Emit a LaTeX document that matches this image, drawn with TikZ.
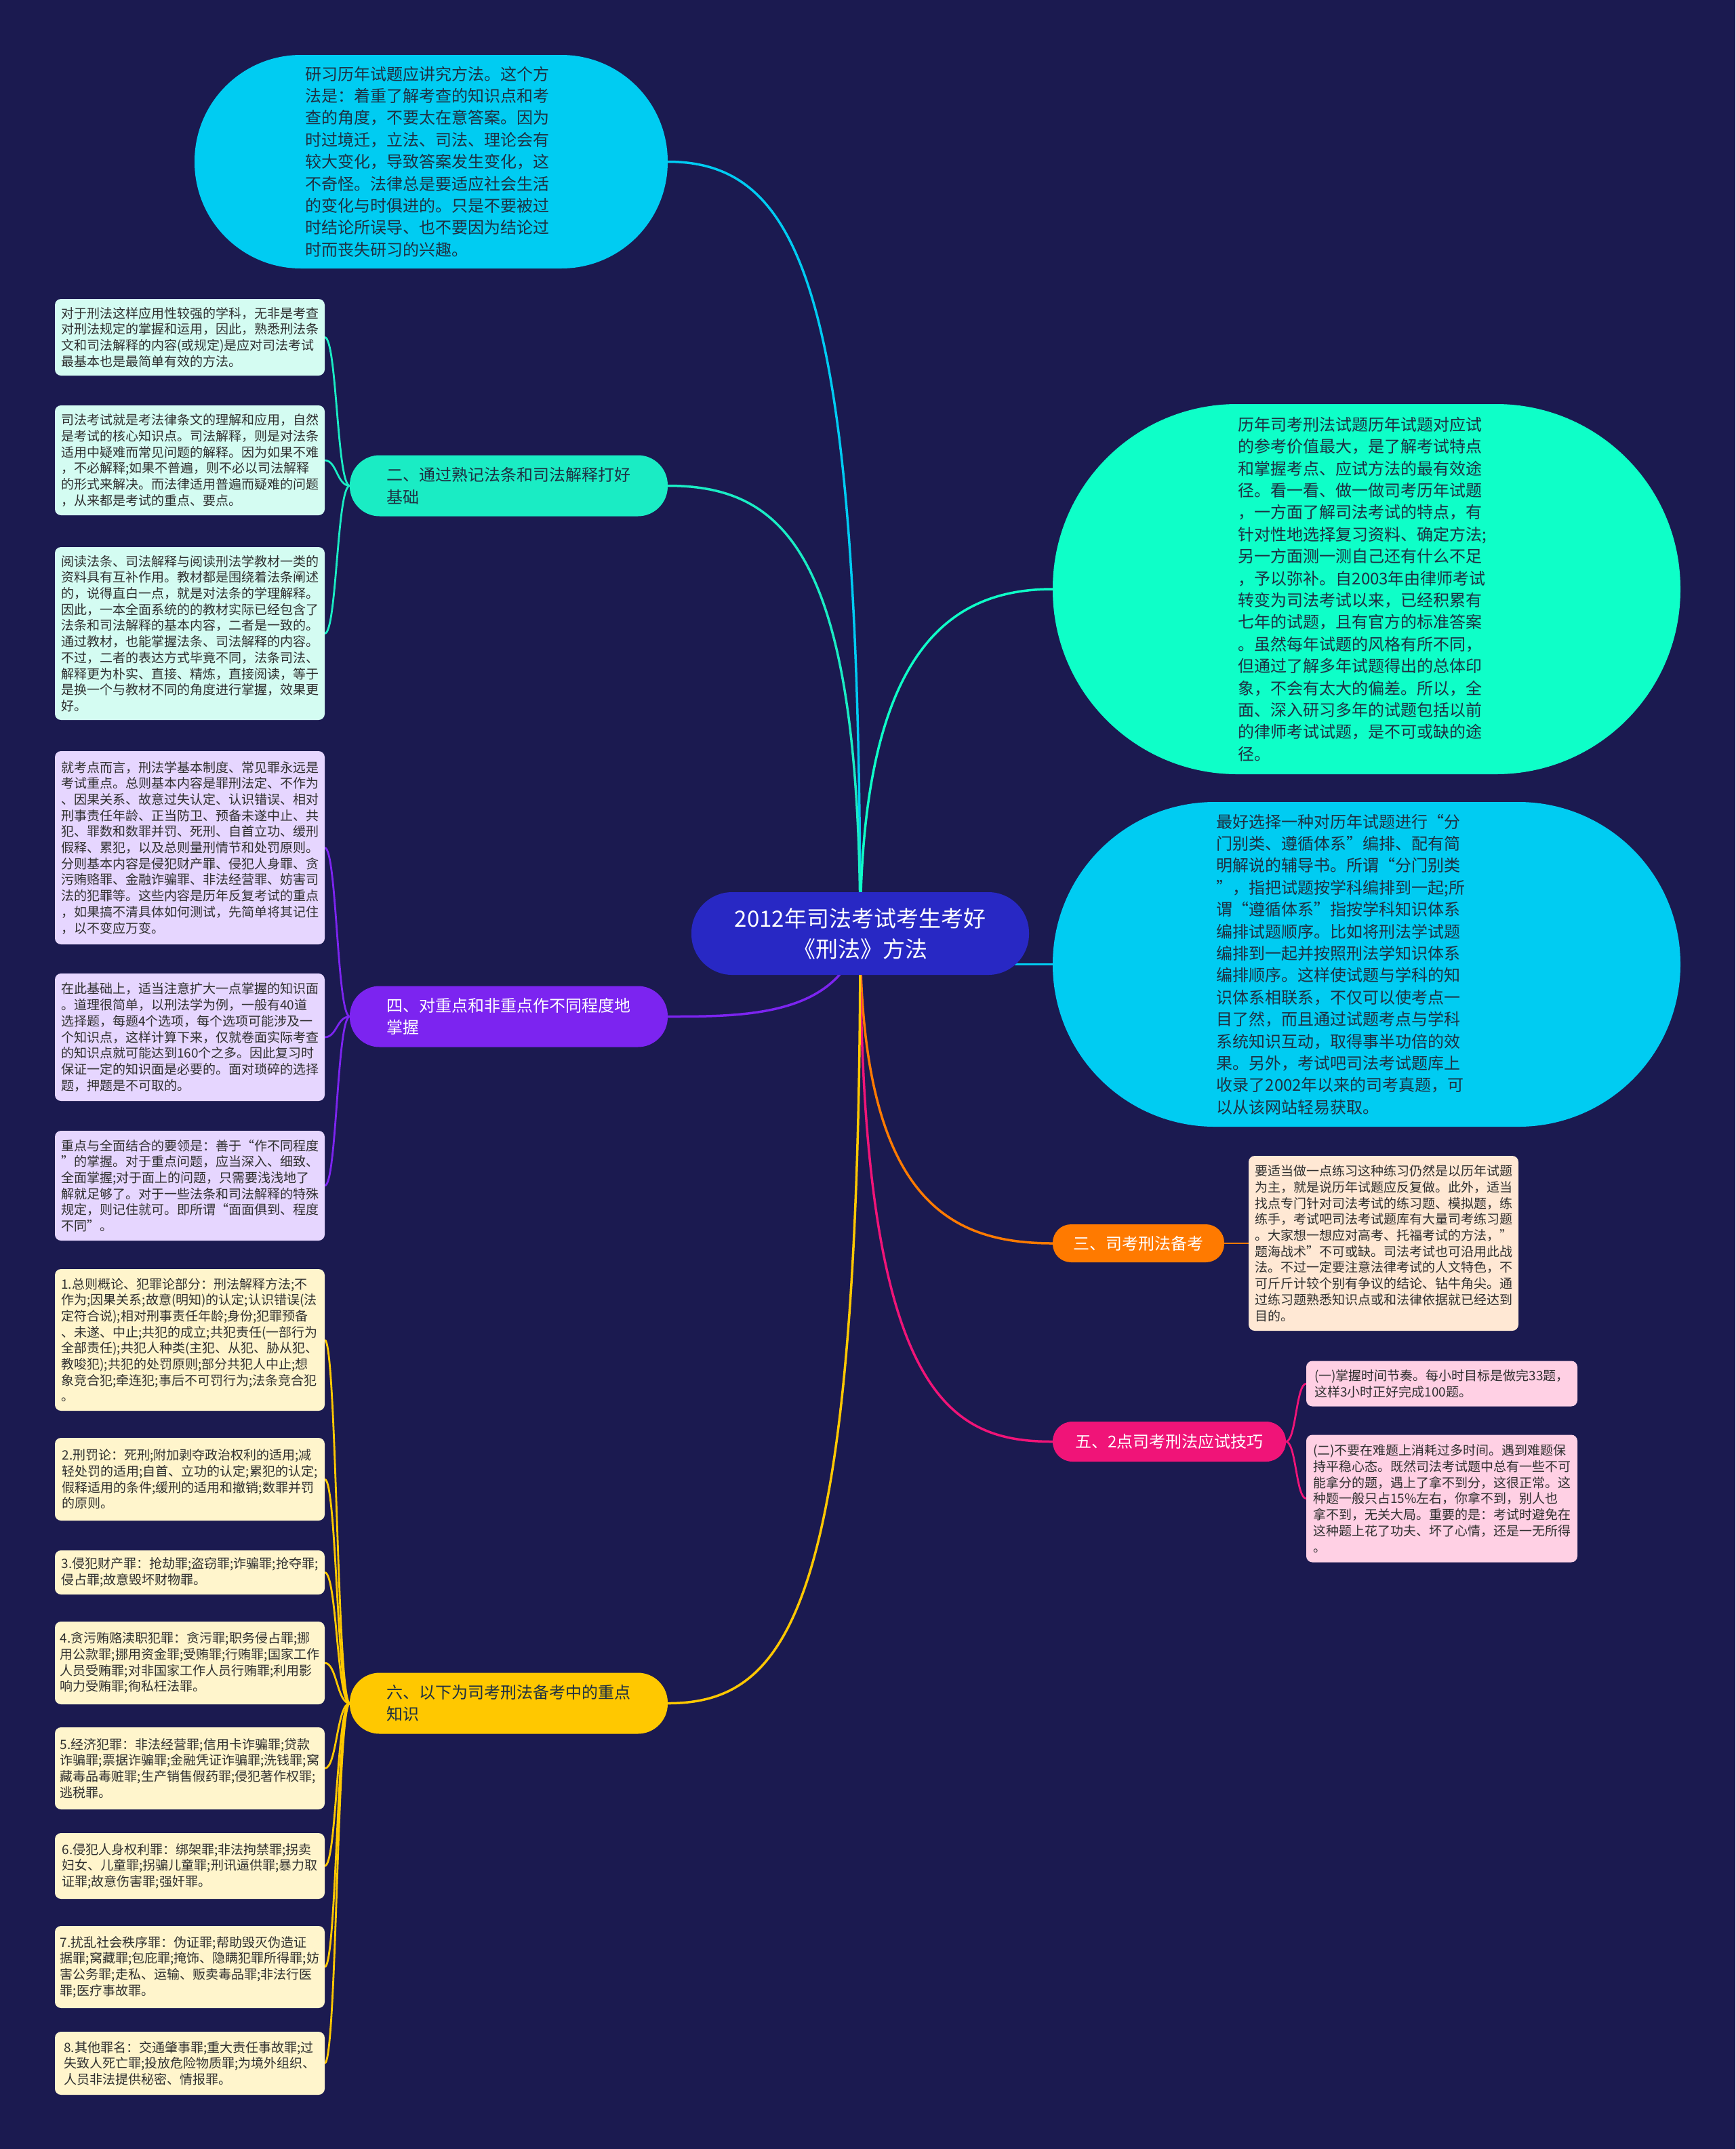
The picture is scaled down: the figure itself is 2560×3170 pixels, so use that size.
\documentclass[tikz,border=0pt]{standalone}
\usepackage{fontspec}
\setmainfont{Noto Sans CJK SC}
\definecolor{bgc}{RGB}{27,26,80}
\definecolor{ctrc}{RGB}{40,40,196}
\definecolor{cyanc}{RGB}{0,204,242}
\definecolor{mintc}{RGB}{14,255,200}
\definecolor{mintl}{RGB}{26,236,196}
\definecolor{mintbox}{RGB}{212,252,242}
\definecolor{purc}{RGB}{124,36,240}
\definecolor{purbox}{RGB}{230,214,255}
\definecolor{orac}{RGB}{255,122,0}
\definecolor{orabox}{RGB}{255,232,212}
\definecolor{magc}{RGB}{240,20,120}
\definecolor{magbox}{RGB}{255,208,228}
\definecolor{yelc}{RGB}{255,200,0}
\definecolor{yelbox}{RGB}{255,245,204}
\definecolor{bubtxt}{RGB}{30,48,66}
\definecolor{boxtxt}{RGB}{48,48,48}
\pgfdeclarelayer{bgl}
\pgfdeclarelayer{edges}
\pgfsetlayers{bgl,edges,main}
\begin{document}
\begin{tikzpicture}[x=1pt,y=-1pt,
  every node/.style={inner sep=0pt, outer sep=0pt},
  btext/.style={align=left, font=\fontsize{24}{32.4}\selectfont, text=bubtxt},
  branchnode/.style={rectangle, minimum width=469pt, minimum height=90pt, rounded corners=44pt, align=left, font=\fontsize{24}{32.4}\selectfont},
  sbox/.style={rectangle, minimum width=398pt, rounded corners=9pt, align=left, font=\fontsize{19}{23.7}\selectfont, text=boxtxt},
  mainline/.style={line width=3.5pt},
  subline/.style={line width=2.8pt},
]
\begin{pgfonlayer}{bgl}
\fill[bgc] (0,0) rectangle (2560,3170);
\end{pgfonlayer}
\useasboundingbox (0,0) rectangle (2560,3170);

% root
\node[fill=ctrc, rounded corners=60pt, minimum width=498pt, minimum height=122pt, align=center, text=white, font=\fontsize{33}{45}\selectfont] (ctr) at (1269,1377) {2012年司法考试考生考好\\《刑法》方法};

% top bubble
\node[fill=cyanc, rounded corners=157pt, minimum width=698pt, minimum height=315pt] (A) at (636,238.5) {};
\node[btext] (At) at (630,238.5) {研习历年试题应讲究方法。这个方\\法是：着重了解考查的知识点和考\\查的角度，不要太在意答案。因为\\时过境迁，立法、司法、理论会有\\较大变化，导致答案发生变化，这\\不奇怪。法律总是要适应社会生活\\的变化与时俱进的。只是不要被过\\时结论所误导、也不要因为结论过\\时而丧失研习的兴趣。};

% right bubbles
\node[fill=mintc, rounded corners=272pt, minimum width=926pt, minimum height=546pt] (C) at (2016,869) {};
\node[btext] (Ct) at (2010,869) {历年司考刑法试题历年试题对应试\\的参考价值最大，是了解考试特点\\和掌握考点、应试方法的最有效途\\径。看一看、做一做司考历年试题\\，一方面了解司法考试的特点，有\\针对性地选择复习资料、确定方法;\\另一方面测一测自己还有什么不足\\，予以弥补。自2003年由律师考试\\转变为司法考试以来，已经积累有\\七年的试题，且有官方的标准答案\\。虽然每年试题的风格有所不同，\\但通过了解多年试题得出的总体印\\象，不会有太大的偏差。所以，全\\面、深入研习多年的试题包括以前\\的律师考试试题，是不可或缺的途\\径。};

\node[fill=cyanc, rounded corners=239pt, minimum width=926pt, minimum height=479pt] (D) at (2016,1422.5) {};
\node[btext] (Dt) at (1978,1422.5) {最好选择一种对历年试题进行“分\\门别类、遵循体系”编排、配有简\\明解说的辅导书。所谓“分门别类\\”，指把试题按学科编排到一起;所\\谓“遵循体系”指按学科知识体系\\编排试题顺序。比如将刑法学试题\\编排到一起并按照刑法学知识体系\\编排顺序。这样使试题与学科的知\\识体系相联系，不仅可以使考点一\\目了然，而且通过试题考点与学科\\系统知识互动，取得事半功倍的效\\果。另外，考试吧司法考试题库上\\收录了2002年以来的司考真题，可\\以从该网站轻易获取。};

% branch 二
\node[branchnode, fill=mintl, text=bubtxt] (B) at (750.5,716.5) {二、通过熟记法条和司法解释打好\\基础};
\node[sbox, fill=mintbox, minimum height=113pt] (B1) at (280,497.5) {对于刑法这样应用性较强的学科，无非是考查\\对刑法规定的掌握和运用，因此，熟悉刑法条\\文和司法解释的内容(或规定)是应对司法考试\\最基本也是最简单有效的方法。};
\node[sbox, fill=mintbox, minimum height=162pt] (B2) at (280,679) {司法考试就是考法律条文的理解和应用，自然\\是考试的核心知识点。司法解释，则是对法条\\适用中疑难而常见问题的解释。因为如果不难\\，不必解释;如果不普遍，则不必以司法解释\\的形式来解决。而法律适用普遍而疑难的问题\\，从来都是考试的重点、要点。};
\node[sbox, fill=mintbox, minimum height=255pt] (B3) at (280,934.5) {阅读法条、司法解释与阅读刑法学教材一类的\\资料具有互补作用。教材都是围绕着法条阐述\\的，说得直白一点，就是对法条的学理解释。\\因此，一本全面系统的的教材实际已经包含了\\法条和司法解释的基本内容，二者是一致的。\\通过教材，也能掌握法条、司法解释的内容。\\不过，二者的表达方式毕竟不同，法条司法、\\解释更为朴实、直接、精炼，直接阅读，等于\\是换一个与教材不同的角度进行掌握，效果更\\好。};

% branch 四
\node[branchnode, fill=purc, text=white] (G) at (750.5,1499.5) {四、对重点和非重点作不同程度地\\掌握};
\node[sbox, fill=purbox, minimum height=285pt] (G1) at (280,1250.5) {就考点而言，刑法学基本制度、常见罪永远是\\考试重点。总则基本内容是罪刑法定、不作为\\、因果关系、故意过失认定、认识错误、相对\\刑事责任年龄、正当防卫、预备未遂中止、共\\犯、罪数和数罪并罚、死刑、自首立功、缓刑\\假释、累犯，以及总则量刑情节和处罚原则。\\分则基本内容是侵犯财产罪、侵犯人身罪、贪\\污贿赂罪、金融诈骗罪、非法经营罪、妨害司\\法的犯罪等。这些内容是历年反复考试的重点\\，如果搞不清具体如何测试，先简单将其记住\\，以不变应万变。};
\node[sbox, fill=purbox, minimum height=188pt] (G2) at (280,1530) {在此基础上，适当注意扩大一点掌握的知识面\\。道理很简单，以刑法学为例，一般有40道\\选择题，每题4个选项，每个选项可能涉及一\\个知识点，这样计算下来，仅就卷面实际考查\\的知识点就可能达到160个之多。因此复习时\\保证一定的知识面是必要的。面对琐碎的选择\\题，押题是不可取的。};
\node[sbox, fill=purbox, minimum height=162pt] (G3) at (280,1749) {重点与全面结合的要领是：善于“作不同程度\\”的掌握。对于重点问题，应当深入、细致、\\全面掌握;对于面上的问题，只需要浅浅地了\\解就足够了。对于一些法条和司法解释的特殊\\规定，则记住就可。即所谓“面面俱到、程度\\不同”。};

% branch 三
\node[rectangle, fill=orac, text=white, rounded corners=27pt, minimum width=253pt, minimum height=56pt, font=\fontsize{24}{32.4}\selectfont] (E) at (1679.5,1834) {三、司考刑法备考};
\node[sbox, fill=orabox, minimum height=258pt] (E1) at (2041,1834) {要适当做一点练习这种练习仍然是以历年试题\\为主，就是说历年试题应反复做。此外，适当\\找点专门针对司法考试的练习题、模拟题，练\\练手，考试吧司法考试题库有大量司考练习题\\。大家想一想应对高考、托福考试的方法，”\\题海战术”不可或缺。司法考试也可沿用此战\\法。不过一定要注意法律考试的人文特色，不\\可斤斤计较个别有争议的结论、钻牛角尖。通\\过练习题熟悉知识点或和法律依据就已经达到\\目的。};

% branch 五
\node[rectangle, fill=magc, text=white, rounded corners=29pt, minimum width=344pt, minimum height=59pt, font=\fontsize{24}{32.4}\selectfont] (F) at (1725,2126.5) {五、2点司考刑法应试技巧};
\node[sbox, fill=magbox, minimum width=400pt, minimum height=67pt] (F1) at (2127,2041) {(一)掌握时间节奏。每小时目标是做完33题，\\这样3小时正好完成100题。};
\node[sbox, fill=magbox, minimum width=400pt, minimum height=188pt] (F2) at (2127,2210.5) {(二)不要在难题上消耗过多时间。遇到难题保\\持平稳心态。既然司法考试题中总有一些不可\\能拿分的题，遇上了拿不到分，这很正常。这\\种题一般只占15\%左右，你拿不到，别人也\\拿不到，无关大局。重要的是：考试时避免在\\这种题上花了功夫、坏了心情，还是一无所得\\。};

% branch 六
\node[branchnode, fill=yelc, text=bubtxt] (H) at (750.5,2512.5) {六、以下为司考刑法备考中的重点\\知识};
\node[sbox, fill=yelbox, minimum height=209pt] (H1) at (280,1976.5) {1.总则概论、犯罪论部分：刑法解释方法;不\\作为;因果关系;故意(明知)的认定;认识错误(法\\定符合说);相对刑事责任年龄;身份;犯罪预备\\、未遂、中止;共犯的成立;共犯责任(一部行为\\全部责任);共犯人种类(主犯、从犯、胁从犯、\\教唆犯);共犯的处罚原则;部分共犯人中止;想\\象竞合犯;牵连犯;事后不可罚行为;法条竞合犯\\。};
\node[sbox, fill=yelbox, minimum height=122pt] (H2) at (280,2182) {2.刑罚论：死刑;附加剥夺政治权利的适用;减\\轻处罚的适用;自首、立功的认定;累犯的认定;\\假释适用的条件;缓刑的适用和撤销;数罪并罚\\的原则。};
\node[sbox, fill=yelbox, minimum height=65pt] (H3) at (280,2319.5) {3.侵犯财产罪：抢劫罪;盗窃罪;诈骗罪;抢夺罪;\\侵占罪;故意毁坏财物罪。};
\node[sbox, fill=yelbox, minimum height=122pt] (H4) at (280,2453) {4.贪污贿赂渎职犯罪：贪污罪;职务侵占罪;挪\\用公款罪;挪用资金罪;受贿罪;行贿罪;国家工作\\人员受贿罪;对非国家工作人员行贿罪;利用影\\响力受贿罪;徇私枉法罪。};
\node[sbox, fill=yelbox, minimum height=121pt] (H5) at (280,2608.5) {5.经济犯罪：非法经营罪;信用卡诈骗罪;贷款\\诈骗罪;票据诈骗罪;金融凭证诈骗罪;洗钱罪;窝\\藏毒品毒赃罪;生产销售假药罪;侵犯著作权罪;\\逃税罪。};
\node[sbox, fill=yelbox, minimum height=97pt] (H6) at (280,2752.5) {6.侵犯人身权利罪：绑架罪;非法拘禁罪;拐卖\\妇女、儿童罪;拐骗儿童罪;刑讯逼供罪;暴力取\\证罪;故意伤害罪;强奸罪。};
\node[sbox, fill=yelbox, minimum height=121pt] (H7) at (280,2901.5) {7.扰乱社会秩序罪：伪证罪;帮助毁灭伪造证\\据罪;窝藏罪;包庇罪;掩饰、隐瞒犯罪所得罪;妨\\害公务罪;走私、运输、贩卖毒品罪;非法行医\\罪;医疗事故罪。};
\node[sbox, fill=yelbox, minimum height=93pt] (H8) at (280,3043.5) {8.其他罪名：交通肇事罪;重大责任事故罪;过\\失致人死亡罪;投放危险物质罪;为境外组织、\\人员非法提供秘密、情报罪。};

\begin{pgfonlayer}{edges}
% main branches
\draw[mainline, cyanc] (ctr.center) .. controls (1269,450) and (1190,238.5) .. (A.east);
\draw[mainline, mintl] (ctr.center) .. controls (1269,820) and (1160,716.5) .. (B.east);
\draw[mainline, mintc] (ctr.center) .. controls (1269,960) and (1400,869) .. (C.west);
\draw[mainline, cyanc] ([xshift=-40pt]ctr.east |- D.west) -- (D.west);
\draw[mainline, purc] (ctr.center) .. controls (1240,1499.5) and (1100,1499.5) .. (G.east);
\draw[mainline, orac] (ctr.center) .. controls (1269,1770) and (1400,1834) .. (E.west);
\draw[mainline, magc] (ctr.center) .. controls (1269,2060) and (1400,2126.5) .. (F.west);
\draw[mainline, yelc] (ctr.center) .. controls (1269,2360) and (1170,2512.5) .. (H.east);
% sub branches
\foreach \n in {B1,B2,B3}{
  \draw[subline, mintl] (B.west) .. controls ([xshift=-19pt]B.west) and ([xshift=18pt]\n.east) .. (\n.east);
}
\foreach \n in {G1,G2,G3}{
  \draw[subline, purc] (G.west) .. controls ([xshift=-19pt]G.west) and ([xshift=18pt]\n.east) .. (\n.east);
}
\foreach \n in {H1,H2,H3,H4,H5,H6,H7,H8}{
  \draw[subline, yelc] (H.west) .. controls ([xshift=-19pt]H.west) and ([xshift=18pt]\n.east) .. (\n.east);
}
\draw[subline, orac] (E.east) -- (E1.west);
\foreach \n in {F1,F2}{
  \draw[subline, magc] (F.east) .. controls ([xshift=15pt]F.east) and ([xshift=-15pt]\n.west) .. (\n.west);
}
\end{pgfonlayer}
\end{tikzpicture}
\end{document}
